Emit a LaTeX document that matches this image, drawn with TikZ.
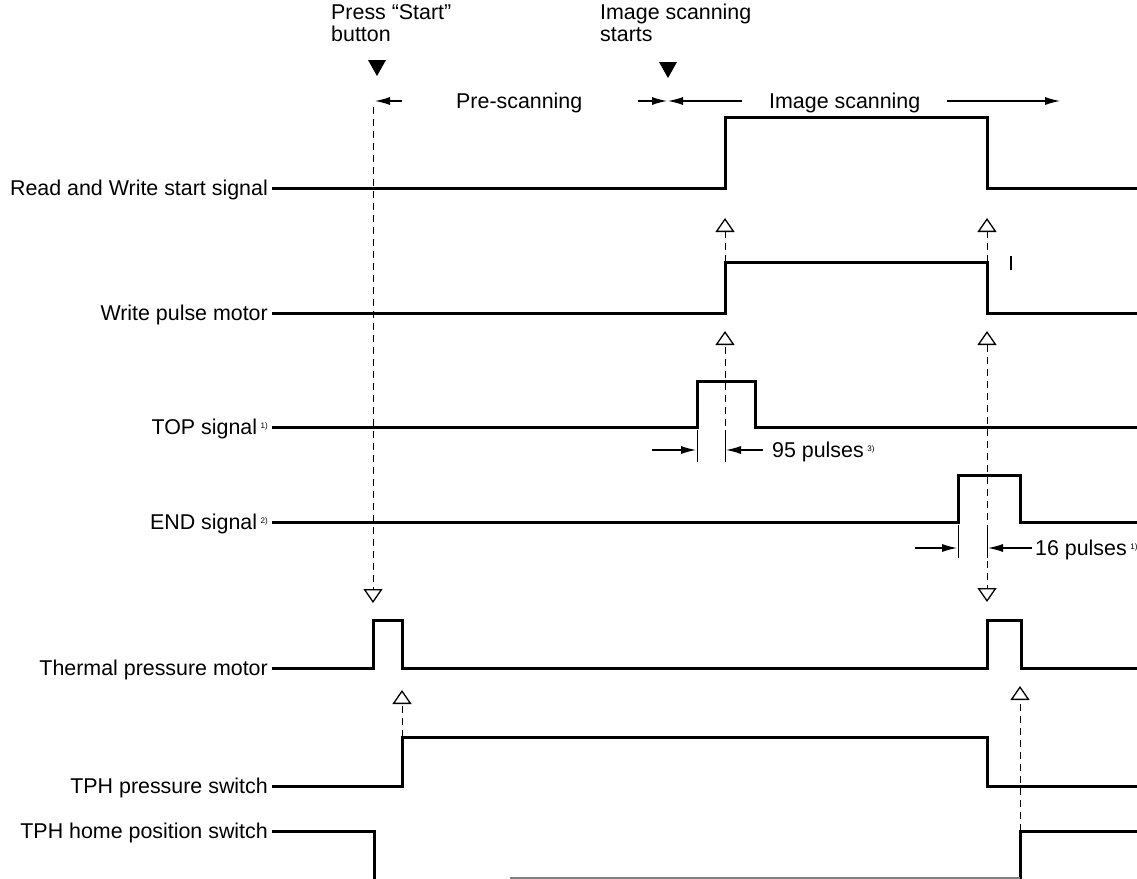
\documentclass[tikz,border=0pt]{standalone}
\usepackage{fontspec}
\setmainfont{Liberation Sans}
\usetikzlibrary{arrows.meta}
\begin{document}
\begin{tikzpicture}[x=1pt,y=-1pt,
  sig/.style={line width=3pt, line join=miter},
  lbl/.style={anchor=east, inner sep=0pt, text height=15pt, text depth=0pt, font=\fontsize{21.4}{24}\selectfont},
  txt/.style={inner sep=0pt, text height=15pt, text depth=0pt, font=\fontsize{21.4}{24}\selectfont},
  hdr/.style={inner sep=0pt, anchor=north west, align=left, font=\fontsize{21.4}{22}\selectfont},
  cause/.style={dash pattern=on 7pt off 5pt, line width=0.9pt, -{Triangle[open,width=19pt,length=14pt,line width=1.3pt]}},
  causeboth/.style={dash pattern=on 7pt off 5pt, line width=0.9pt, {Triangle[open,width=19pt,length=14pt,line width=1.3pt]}-{Triangle[open,width=19pt,length=14pt,line width=1.3pt]}},
  ext/.style={line width=1pt},
  dim/.style={line width=1.1pt, -{Latex[length=15pt,width=8pt]}},
  evt/.style={fill=black}
]
\useasboundingbox (0,0) rectangle (1137,878);
\newcommand{\fnm}[1]{\,{\fontsize{8}{8}\selectfont\raisebox{6pt}{#1}}}

% header
\node[hdr] (press) at (331,4) {Press “Start”\\button};
\node[hdr] (iss) at (600,4) {Image scanning\\starts};
\fill[evt] (368,60) -- (386,60) -- (377,76) -- cycle;
\fill[evt] (659,62) -- (677,62) -- (668,78) -- cycle;
\node[txt, anchor=west] (pre) at (456,101) {Pre-scanning};
\node[txt, anchor=west] (img) at (769,101) {Image scanning};
\coordinate (ps0) at (375,101);
\coordinate (ps1) at (667,101);
\draw[dim] (402,101) -- (ps0);
\draw[dim] (638,101) -- (ps1);
\draw[dim] (742,101) -- (668,101);
\draw[dim] (947,101) -- (1060,101);

% labels
\node[lbl] (rw)  at (268,188) {Read and Write start signal};
\node[lbl] (wpm) at (268,313) {Write pulse motor};
\node[lbl] (top) at (268,427) {TOP signal\fnm{1)}};
\node[lbl] (end) at (268,522) {END signal\fnm{2)}};
\node[lbl] (tpm) at (268,668) {Thermal pressure motor};
\node[lbl] (tps) at (268,786) {TPH pressure switch};
\node[lbl] (thp) at (268,831) {TPH home position switch};

% waveforms
\draw[sig] (272,188) -- (725,188) -- (725,117) -- (987,117) -- (987,188) -- (1137,188);
\draw[sig] (272,313) -- (725,313) -- (725,262) -- (987,262) -- (987,313) -- (1137,313);
\draw[sig] (272,427) -- (697,427) -- (697,381) -- (755,381) -- (755,427) -- (1137,427);
\draw[sig] (272,522) -- (958,522) -- (958,475) -- (1020,475) -- (1020,522) -- (1137,522);
\draw[sig] (272,668) -- (373,668) -- (373,620) -- (402,620) -- (402,668) -- (987,668) -- (987,620) -- (1021,620) -- (1021,668) -- (1137,668);
\draw[sig] (272,786) -- (402,786) -- (402,737) -- (987,737) -- (987,786) -- (1137,786);
\draw[sig] (272,831) -- (374,831) -- (374,882);
\draw[sig] (1020,882) -- (1020,831) -- (1137,831);
\draw[line width=1.6pt, black!50] (510,878) -- (1020,878);

% cause arrows
\draw[cause] (373,107) -- (373,603);
\draw[cause] (402,737) -- (402,690);
\draw[cause] (725,262) -- (725,218);
\draw[cause] (725,462) -- (725,331);
\draw[cause] (987,262) -- (987,218);
\draw[causeboth] (987,331) -- (987,602);
\draw[cause] (1020,831) -- (1020,686);

% dimension for TOP
\draw[ext] (697,430) -- (697,462);
\draw[ext] (725,430) -- (725,462);
\draw[dim] (652,450) -- (696,450);
\draw[dim] (763,450) -- (726,450);
\node[txt, anchor=west] (p95) at (772,450) {95 pulses\fnm{3)}};

% dimension for END
\draw[ext] (958,525) -- (958,558);
\draw[ext] (987,525) -- (987,558);
\draw[dim] (915,548) -- (957,548);
\draw[dim] (1032,548) -- (988,548);
\node[txt, anchor=west] (p16) at (1035,548) {16 pulses\fnm{1)}};

% stray tick
\draw[line width=1.2pt] (1011,256) -- (1011,270);
\end{tikzpicture}
\end{document}
